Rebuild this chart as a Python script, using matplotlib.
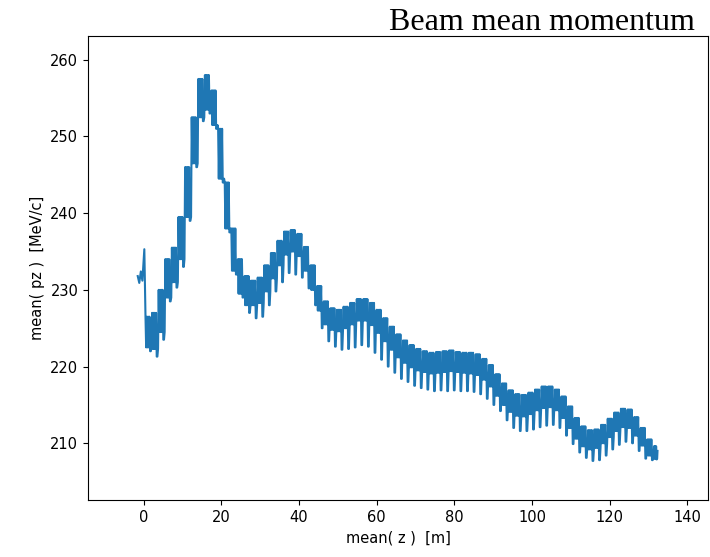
import numpy as np
import matplotlib
matplotlib.use("Agg")
import matplotlib.pyplot as plt

# ---- data ----
# lead-in samples before the first cell
lead_z = [-1.5, -1.1, -0.7, -0.3, 0.2]
lead_pz = [231.8, 230.9, 232.4, 231.2, 235.3]

# start of each lattice cell along the beam line [m]
cell_z = [0.5, 2.2, 3.9, 5.6, 7.3, 9.0, 10.7, 12.4, 14.1, 15.8,
          17.5, 19.2, 20.9, 22.6, 24.3, 26.0, 27.7, 29.4, 31.1, 32.8,
          34.5, 36.2, 37.9, 39.6, 41.3, 43.0, 44.7, 46.4, 48.1, 49.8,
          51.5, 53.2, 54.9, 56.6, 58.3, 60.0, 61.7, 63.4, 65.1, 66.8,
          68.5, 70.2, 71.9, 73.6, 75.3, 77.0, 78.7, 80.4, 82.1, 83.8,
          85.5, 87.2, 88.9, 90.6, 92.3, 94.0, 95.7, 97.4, 99.1, 100.8,
          102.5, 104.2, 105.9, 107.6, 109.3, 111.0, 112.7, 114.4, 116.1, 117.8,
          119.5, 121.2, 122.9, 124.6, 126.3, 128.0, 129.7, 131.4]

# highest mean pz within each cell [MeV/c]
cell_top = [226.5, 227.0, 230.0, 234.0, 235.5, 239.5, 246.0, 252.5, 257.5, 258.0,
            256.0, 251.0, 244.0, 238.0, 234.0, 231.8, 231.2, 231.6, 233.2, 234.8,
            236.4, 237.6, 237.8, 237.3, 235.6, 233.2, 230.5, 228.5, 227.6, 227.4,
            227.8, 228.3, 228.8, 228.8, 228.3, 227.4, 226.3, 225.2, 224.2, 223.4,
            222.8, 222.3, 222.0, 221.8, 221.9, 222.0, 222.1, 221.9, 221.8, 221.8,
            221.6, 221.0, 220.2, 219.0, 217.8, 216.9, 216.4, 216.3, 216.6, 217.0,
            217.4, 217.4, 217.0, 216.1, 214.8, 213.3, 212.2, 211.7, 211.8, 212.4,
            213.2, 214.0, 214.5, 214.4, 213.4, 212.0, 210.5, 209.6]

# lower edge of the solid band within each cell [MeV/c]
cell_low = [222.5, 222.3, 224.5, 229.0, 231.0, 234.0, 239.5, 246.5, 252.5, 253.5,
            251.5, 244.5, 238.0, 232.5, 229.5, 228.0, 228.0, 228.3, 229.8, 231.5,
            233.2, 234.6, 235.0, 234.4, 232.5, 230.0, 227.3, 225.5, 224.8, 224.6,
            225.0, 225.5, 226.0, 226.0, 225.4, 224.4, 223.3, 222.2, 221.2, 220.5,
            219.9, 219.5, 219.3, 219.1, 219.2, 219.3, 219.4, 219.3, 219.2, 219.1,
            218.9, 218.3, 217.4, 216.2, 215.0, 214.1, 213.6, 213.5, 213.8, 214.3,
            214.6, 214.7, 214.3, 213.3, 212.0, 210.6, 209.6, 209.2, 209.4, 210.0,
            210.8, 211.6, 212.1, 212.0, 211.0, 209.7, 208.4, 208.0]

# short downward dip (absorber) in each cell [MeV/c]
cell_dip = [222.0, 221.3, 223.5, 228.5, 230.3, 233.0, 239.0, 246.0, 252.0, 253.0,
            251.0, 244.0, 237.5, 232.0, 229.0, 227.0, 226.3, 226.5, 228.0, 229.8,
            231.0, 232.2, 232.0, 231.6, 230.2, 228.0, 225.0, 223.3, 222.6, 222.2,
            222.3, 222.5, 222.8, 222.6, 221.8, 220.9, 220.0, 219.2, 218.4, 218.0,
            217.5, 217.2, 217.0, 216.8, 216.9, 216.8, 216.9, 216.8, 216.8, 216.7,
            216.4, 215.8, 215.0, 214.2, 213.0, 212.0, 211.6, 211.6, 211.8, 212.1,
            212.3, 212.4, 212.0, 211.0, 209.9, 208.8, 208.1, 207.7, 207.8, 208.4,
            209.2, 209.8, 210.2, 210.0, 209.0, 208.0, 207.8, 207.9]

end_z = [132.3]
end_pz = [209.0]

xlim = (-14.3, 145.3)
ylim = (202.6, 263.1)
xticks = [0, 20, 40, 60, 80, 100, 120, 140]
yticks = [210, 220, 230, 240, 250, 260]

# ---- assemble polyline: within each cell the sample alternates between
# the band top and band bottom, with one dip near the end of the cell ----
cell_len = np.diff(list(cell_z) + end_z)
zs = list(lead_z)
ps = list(lead_pz)
for z0, L, t, lo, d in zip(cell_z, cell_len, cell_top, cell_low, cell_dip):
    vals = [t, lo, t, lo, t, lo, t, d, d, lo]
    n = len(vals)
    for i, v in enumerate(vals):
        zs.append(z0 + L * i / n)
        ps.append(v)
zs += end_z
ps += end_pz

# ---- figure ----
fig = plt.figure(figsize=(7.10, 5.57), dpi=100)
ax = fig.add_axes([88 / 710, 57 / 557, 620 / 710, 464 / 557])
ax.plot(zs, ps, color="#1f77b4", linewidth=1.5)
ax.set_xlim(*xlim)
ax.set_ylim(*ylim)
ax.set_xticks(xticks)
ax.set_yticks(yticks)
ax.tick_params(labelsize=10.5)
ax.set_xlabel("mean( z )  [m]", fontsize=10.5)
ax.set_ylabel("mean( pz )  [MeV/c]", fontsize=10.5)

fig.text(695 / 710, 1 - 30 / 557, "Beam mean momentum",
         ha="right", va="baseline", fontsize=23,
         family=["Liberation Serif", "DejaVu Serif"])

fig.savefig("out.png", dpi=100)
